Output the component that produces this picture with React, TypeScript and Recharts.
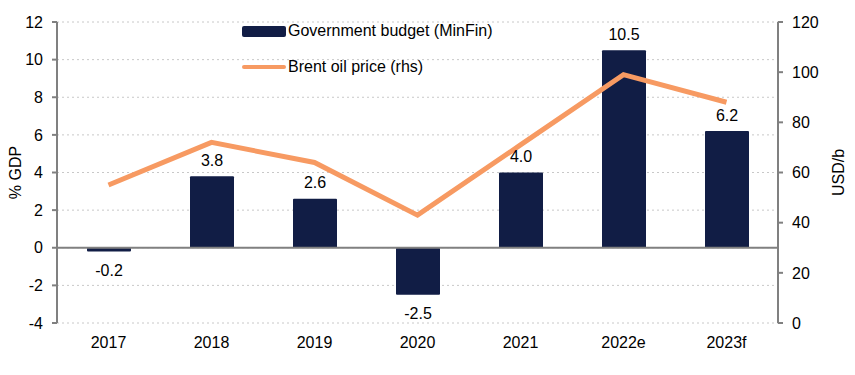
import React from "react";
import {
  ComposedChart,
  Bar,
  Line,
  XAxis,
  YAxis,
  CartesianGrid,
  LabelList,
  ReferenceLine,
} from "recharts";

const years = ["2017", "2018", "2019", "2020", "2021", "2022e", "2023f"];
const budget = [-0.2, 3.8, 2.6, -2.5, 4.0, 10.5, 6.2];
const brent = [55, 72, 64, 43, 71, 99, 88];
const leftTicks = [-4, -2, 0, 2, 4, 6, 8, 10, 12];
const rightTicks = [0, 20, 40, 60, 80, 100, 120];

const NAVY = "#111d45";
const ORANGE = "#f79a62";
const AXIS = "#808080";
const FONT = "'Liberation Sans', Arial, sans-serif";
const FS = 16;

const data = years.map((year, i) => ({
  year,
  budget: budget[i],
  brent: brent[i],
}));

const BarValue = (props: any) => {
  const { x, y, width, height, value } = props;
  const top = Math.min(y, y + height);
  const bottom = Math.max(y, y + height);
  const cy = value < 0 ? bottom + 19 : top - 16;
  return (
    <text
      x={x + width / 2}
      y={cy}
      textAnchor="middle"
      dominantBaseline="central"
      fontSize={FS}
      fontFamily={FONT}
      fill="#000"
    >
      {Number(value).toFixed(1)}
    </text>
  );
};

// legend sits inside the plot, so it is an overlay and doesn't shift the axes
const ChartLegend = () => (
  <div
    style={{
      position: "absolute",
      left: 242,
      top: 21,
      fontFamily: FONT,
      fontSize: FS,
      color: "#000",
      pointerEvents: "none",
    }}
  >
    <div style={{ display: "flex", alignItems: "center", height: 20 }}>
      <span
        style={{
          display: "inline-block",
          width: 44,
          height: 11,
          background: NAVY,
          borderRadius: 2,
          marginRight: 2,
        }}
      />
      <span>Government budget (MinFin)</span>
    </div>
    <div style={{ display: "flex", alignItems: "center", height: 20, marginTop: 16 }}>
      <span
        style={{
          display: "inline-block",
          width: 44,
          height: 4,
          background: ORANGE,
          borderRadius: 2,
          marginRight: 2,
        }}
      />
      <span>Brent oil price (rhs)</span>
    </div>
  </div>
);

const tickStyle = { fontSize: FS, fontFamily: FONT, fill: "#000" };

export default function App() {
  return (
    <div
      style={{
        position: "absolute",
        left: 0,
        top: 0,
        width: 855,
        height: 375,
        background: "#fff",
      }}
    >
      <ComposedChart
        width={855}
        height={375}
        data={data}
        margin={{ top: 22, right: 0, bottom: 22, left: 0 }}
      >
        <CartesianGrid
          vertical={false}
          stroke="#c8c8c8"
          strokeDasharray="2 3"
          yAxisId="left"
        />
        <XAxis
          dataKey="year"
          axisLine={false}
          tickLine={false}
          tickSize={0}
          tickMargin={14}
          height={30}
          tick={tickStyle}
        />
        <YAxis
          yAxisId="left"
          width={57}
          domain={[-4, 12]}
          ticks={leftTicks}
          interval={0}
          stroke={AXIS}
          strokeWidth={2}
          tickSize={5}
          tickMargin={9}
          tick={tickStyle}
          label={{
            value: "% GDP",
            angle: -90,
            position: "insideLeft",
            offset: 15,
            style: { ...tickStyle, textAnchor: "middle" },
          }}
        />
        <YAxis
          yAxisId="right"
          orientation="right"
          width={77}
          domain={[0, 120]}
          ticks={rightTicks}
          interval={0}
          stroke={AXIS}
          strokeWidth={2}
          tickSize={5}
          tickMargin={9}
          tick={tickStyle}
          label={{
            value: "USD/b",
            angle: -90,
            position: "insideRight",
            offset: 17,
            style: { ...tickStyle, textAnchor: "middle" },
          }}
        />
        <Bar
          yAxisId="left"
          dataKey="budget"
          fill={NAVY}
          barSize={44}
          radius={1}
          isAnimationActive={false}
        >
          <LabelList dataKey="budget" content={<BarValue />} />
        </Bar>
        <ReferenceLine yAxisId="left" y={0} stroke={AXIS} strokeWidth={2} />
        <Line
          yAxisId="right"
          dataKey="brent"
          type="linear"
          stroke={ORANGE}
          strokeWidth={5}
          dot={false}
          activeDot={false}
          isAnimationActive={false}
        />
      </ComposedChart>
      <ChartLegend />
    </div>
  );
}
